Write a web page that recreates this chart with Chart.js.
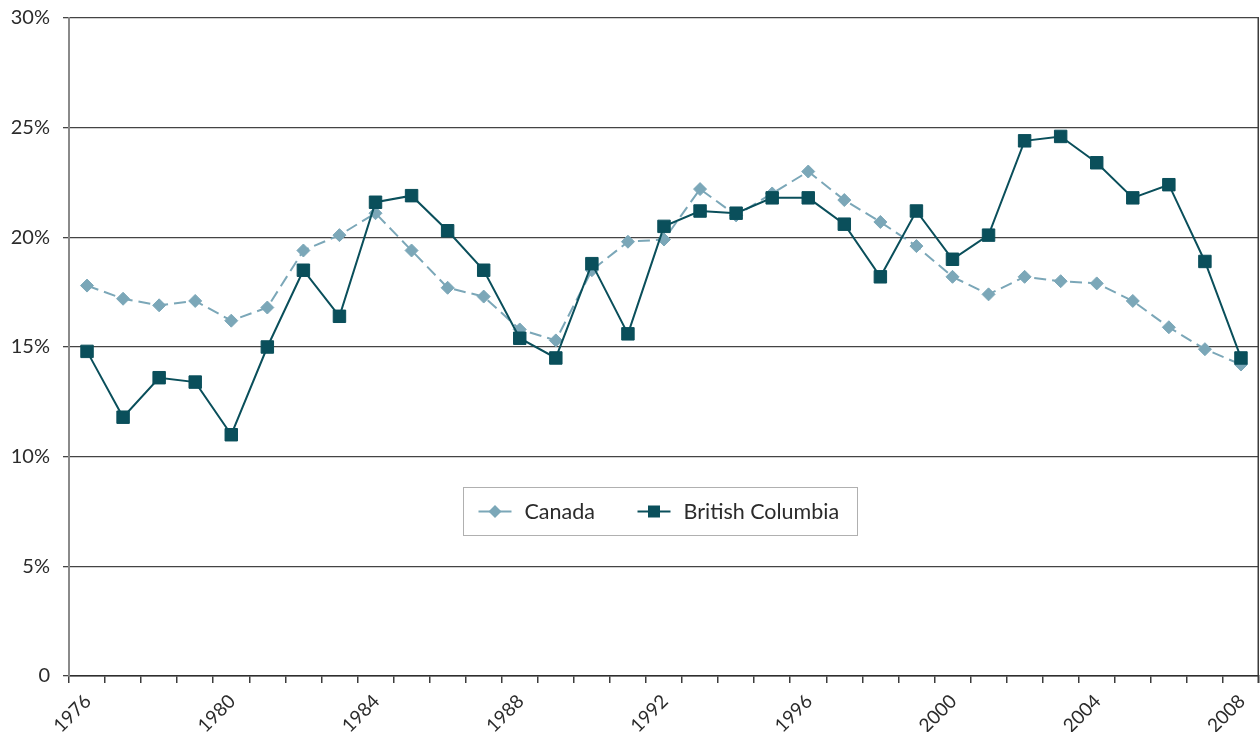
<!DOCTYPE html>
<html>
<head>
<meta charset="utf-8">
<script src="https://cdn.jsdelivr.net/npm/chart.js@4"></script>
<style>
  html, body { margin: 0; padding: 0; background: #fff; }
  #wrap { width: 1260px; height: 732px; position: relative; }
</style>
</head>
<body>
<div id="wrap"><canvas id="c" width="1260" height="732"></canvas></div>
<script>
// Years on the horizontal axis
const years = [1976, 1977, 1978, 1979, 1980, 1981, 1982, 1983, 1984, 1985, 1986,
  1987, 1988, 1989, 1990, 1991, 1992, 1993, 1994, 1995, 1996, 1997, 1998,
  1999, 2000, 2001, 2002, 2003, 2004, 2005, 2006, 2007, 2008];

// Rates, percent
const canada = [17.8, 17.2, 16.9, 17.1, 16.2, 16.8, 19.4, 20.1, 21.1, 19.4, 17.7,
  17.3, 15.8, 15.3, 18.5, 19.8, 19.9, 22.2, 21.0, 22.0, 23.0, 21.7, 20.7,
  19.6, 18.2, 17.4, 18.2, 18.0, 17.9, 17.1, 15.9, 14.9, 14.2];

const britishColumbia = [14.8, 11.8, 13.6, 13.4, 11.0, 15.0, 18.5, 16.4, 21.6, 21.9, 20.3,
  18.5, 15.4, 14.5, 18.8, 15.6, 20.5, 21.2, 21.1, 21.8, 21.8, 20.6, 18.2,
  21.2, 19.0, 20.1, 24.4, 24.6, 23.4, 21.8, 22.4, 18.9, 14.5];

const seriesNames = ['Canada', 'British Columbia'];
const yTicks = [0, 5, 10, 15, 20, 25, 30];

const FONT = 'Lato, "Open Sans", sans-serif';
const TEXT = '#2b2b2b';
const LIGHT = '#7ba7b8';
const DARK = '#0a4f5b';

// Right-hand frame line and the in-plot legend box
const framePlugin = {
  id: 'frameAndLegend',
  afterDraw(chart) {
    const { ctx, chartArea: a } = chart;
    ctx.save();
    ctx.strokeStyle = '#3c3c3c';
    ctx.lineWidth = 1.5;
    ctx.beginPath();
    ctx.moveTo(a.right - 0.75, a.top);
    ctx.lineTo(a.right - 0.75, a.bottom + 7);
    ctx.stroke();

    // legend box
    const bx = a.left + 394.5, by = a.top + 469.5, bw = 394, bh = 48;
    ctx.fillStyle = '#fff';
    ctx.fillRect(bx, by, bw, bh);
    ctx.strokeStyle = '#b0b0b0';
    ctx.lineWidth = 1;
    ctx.strokeRect(bx, by, bw, bh);

    const cy = by + bh / 2;
    const items = [
      { x: bx + 15, color: LIGHT, style: 'rectRot', r: 6.5, label: seriesNames[0] },
      { x: bx + 174, color: DARK, style: 'rect', r: 8, label: seriesNames[1] }
    ];
    ctx.font = '21.5px ' + FONT;
    ctx.textBaseline = 'middle';
    ctx.textAlign = 'left';
    items.forEach(it => {
      ctx.strokeStyle = it.color;
      ctx.lineWidth = 2;
      ctx.beginPath();
      ctx.moveTo(it.x, cy);
      ctx.lineTo(it.x + 33, cy);
      ctx.stroke();
      ctx.fillStyle = it.color;
      ctx.beginPath();
      if (it.style === 'rect') {
        ctx.rect(it.x + 16.5 - 6, cy - 6, 12, 12);
      } else {
        ctx.moveTo(it.x + 16.5 - it.r, cy);
        ctx.lineTo(it.x + 16.5, cy - it.r);
        ctx.lineTo(it.x + 16.5 + it.r, cy);
        ctx.lineTo(it.x + 16.5, cy + it.r);
        ctx.closePath();
      }
      ctx.fill();
      ctx.fillStyle = TEXT;
      ctx.fillText(it.label, it.x + 46, cy + 1);
    });
    ctx.restore();
  }
};

new Chart(document.getElementById('c'), {
  type: 'line',
  data: {
    labels: years,
    datasets: [
      {
        label: seriesNames[0],
        data: canada,
        order: 1,
        borderColor: LIGHT,
        backgroundColor: LIGHT,
        borderWidth: 2,
        borderDash: [12, 6],
        pointStyle: 'rectRot',
        pointRadius: 6.5,
        pointBorderWidth: 1,
        pointBorderColor: LIGHT,
        pointBackgroundColor: LIGHT,
        tension: 0
      },
      {
        label: seriesNames[1],
        data: britishColumbia,
        order: 0,
        borderColor: DARK,
        backgroundColor: DARK,
        borderWidth: 2,
        pointStyle: 'rect',
        pointRadius: 8.8,
        pointBorderWidth: 1,
        pointBorderColor: DARK,
        pointBackgroundColor: DARK,
        tension: 0
      }
    ]
  },
  options: {
    responsive: false,
    animation: false,
    devicePixelRatio: 1,
    layout: { autoPadding: false, padding: { top: 18, right: 1, left: 0, bottom: 0 } },
    plugins: {
      legend: { display: false },
      tooltip: { enabled: false }
    },
    scales: {
      x: {
        type: 'category',
        offset: true,
        grid: {
          offset: true,
          drawOnChartArea: false,
          drawTicks: true,
          tickLength: 7,
          color: '#3c3c3c',
          lineWidth: 1.5
        },
        border: { display: true, color: '#2e2e2e', width: 1.5 },
        ticks: {
          autoSkip: false,
          minRotation: 45,
          maxRotation: 45,
          padding: 7,
          labelOffset: 1,
          color: TEXT,
          font: { family: FONT, size: 19 },
          callback(value, index) {
            const y = years[index];
            return (y - years[0]) % 4 === 0 ? String(y) : '';
          }
        },
        afterFit(scale) {
          scale.height = 56;
          scale.paddingLeft = 0;
          scale.paddingRight = 0;
          scale.paddingTop = 0;
          scale.paddingBottom = 0;
        }
      },
      y: {
        min: 0,
        max: 30,
        afterBuildTicks(scale) {
          scale.ticks = yTicks.map(v => ({ value: v }));
        },
        grid: {
          color: '#444444',
          lineWidth: 1.3,
          tickLength: 6,
          drawTicks: true
        },
        border: { display: true, color: '#8a8a8a', width: 2 },
        ticks: {
          padding: 13,
          color: TEXT,
          font: { family: FONT, size: 20 },
          callback(v) { return v === 0 ? '0' : v + '%'; }
        },
        afterFit(scale) {
          scale.width = 69;
          scale.paddingTop = 0;
          scale.paddingBottom = 0;
          scale.paddingLeft = 0;
          scale.paddingRight = 0;
        }
      }
    }
  },
  plugins: [framePlugin]
});
</script>
</body>
</html>
